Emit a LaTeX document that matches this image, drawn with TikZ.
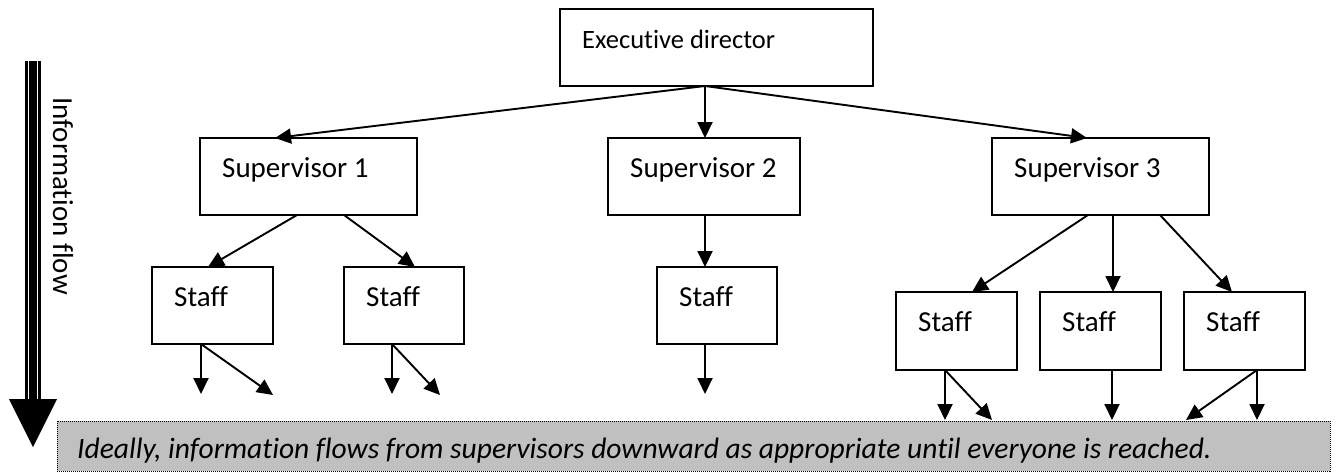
\documentclass[tikz,border=0pt]{standalone}
\usepackage{fontspec}
\setmainfont{Carlito}[Ligatures=NoCommon]
\usetikzlibrary{arrows.meta,calc}
\definecolor{barGray}{RGB}{192,192,192}
\begin{document}
\begin{tikzpicture}[x=1pt,y=-1pt,
  box/.style={draw, line width=1.9pt, inner sep=0pt, outer sep=0pt, anchor=north west},
  lbl/.style={anchor=base west, inner sep=0pt, font=\fontsize{29}{35}\selectfont},
  arr/.style={line width=1.9pt, -{Triangle[length=16pt,width=15pt]}}]
\useasboundingbox (0,0) rectangle (1337,472);
% boxes
\node[box, minimum width=313pt, minimum height=77pt] (exec) at (560,9) {};
\node[box, minimum width=217pt, minimum height=77pt] (sup1) at (200,138) {};
\node[box, minimum width=192pt, minimum height=77pt] (sup2) at (608,138) {};
\node[box, minimum width=217pt, minimum height=77pt] (sup3) at (992,138) {};
\node[box, minimum width=121pt, minimum height=77pt] (st1) at (152,267) {};
\node[box, minimum width=120pt, minimum height=77pt] (st2) at (344,267) {};
\node[box, minimum width=120pt, minimum height=77pt] (stm) at (657,267) {};
\node[box, minimum width=121pt, minimum height=78pt] (sta) at (896,292) {};
\node[box, minimum width=121pt, minimum height=78pt] (stb) at (1040,292) {};
\node[box, minimum width=121pt, minimum height=78pt] (stc) at (1184,292) {};
% labels
\node[lbl, font=\fontsize{26.5}{32}\selectfont] (execT) at ($(exec.north west)+(22,39)$) {Executive director};
\node[lbl] (sup1T) at ($(sup1.north west)+(22,39)$) {Supervisor 1};
\node[lbl] (sup2T) at ($(sup2.north west)+(22,39)$) {Supervisor 2};
\node[lbl] (sup3T) at ($(sup3.north west)+(22,39)$) {Supervisor 3};
\node[lbl] (st1T) at ($(st1.north west)+(22,39)$) {Staff};
\node[lbl] (st2T) at ($(st2.north west)+(22,39)$) {Staff};
\node[lbl] (stmT) at ($(stm.north west)+(22,39)$) {Staff};
\node[lbl] (staT) at ($(sta.north west)+(22,39)$) {Staff};
\node[lbl] (stbT) at ($(stb.north west)+(22,39)$) {Staff};
\node[lbl] (stcT) at ($(stc.north west)+(22,39)$) {Staff};
% bottom bar
\node[draw, fill=barGray, line width=1pt, dash pattern=on 1pt off 1pt, inner sep=0pt, outer sep=0pt,
      anchor=north west, minimum width=1273pt, minimum height=50pt] (bar) at (57,421) {};
\node[lbl, font=\fontsize{29.5}{35}\selectfont\itshape] (barT) at ($(bar.north west)+(20,37)$)
  {Ideally, information flows from supervisors downward as appropriate until everyone is reached.};
% free ends
\coordinate (f1a) at (201,394);
\coordinate (f1b) at (273,395);
\coordinate (f2a) at (392,394);
\coordinate (f2b) at (440,395);
\coordinate (fm) at (705,394);
\coordinate (fa1) at ($(bar.north west)+(888,-1)$);
\coordinate (fa2) at ($(bar.north west)+(935,-1)$);
\coordinate (fb) at ($(bar.north west)+(1055,-1)$);
\coordinate (fc1) at ($(bar.north west)+(1200,-1)$);
\coordinate (fc2) at ($(bar.north west)+(1129,-1)$);
% connectors
\draw[arr] ($(exec.south west)+(145,0)$) -- ($(sup1.north west)+(75,0)$);
\draw[arr] ($(exec.south west)+(145,0)$) -- ($(sup2.north west)+(97,0)$);
\draw[arr] ($(exec.south west)+(145,0)$) -- ($(sup3.north west)+(95,0)$);
\draw[arr] ($(sup1.south west)+(97,0)$) -- ($(st1.north west)+(56,0)$);
\draw[arr] ($(sup1.south west)+(144,0)$) -- ($(st2.north west)+(71,0)$);
\draw[arr] ($(sup2.south west)+(97,0)$) -- ($(stm.north west)+(48,0)$);
\draw[arr] ($(sup3.south west)+(96,0)$) -- ($(sta.north west)+(76,0)$);
\draw[arr] ($(sup3.south west)+(121,0)$) -- ($(stb.north west)+(73,0)$);
\draw[arr] ($(sup3.south west)+(168,0)$) -- ($(stc.north west)+(48,0)$);
\draw[arr] ($(st1.south west)+(49,0)$) -- (f1a);
\draw[arr] ($(st1.south west)+(49,0)$) -- (f1b);
\draw[arr] ($(st2.south west)+(48,0)$) -- (f2a);
\draw[arr] ($(st2.south west)+(48,0)$) -- (f2b);
\draw[arr] ($(stm.south west)+(48,0)$) -- (fm);
\draw[arr] ($(sta.south west)+(49,0)$) -- (fa1);
\draw[arr] ($(sta.south west)+(49,0)$) -- (fa2);
\draw[arr] ($(stb.south west)+(72,0)$) -- (fb);
\draw[arr] ($(stc.south west)+(73,0)$) -- (fc1);
\draw[arr] ($(stc.south west)+(73,0)$) -- (fc2);
% information flow arrow
\fill (25,61) rectangle (28,399);
\fill (29.3,61) rectangle (36.7,399);
\fill (38,61) rectangle (41,399);
\fill (9,399) -- (57,399) -- (33,447) -- cycle;
\node[rotate=-90, inner sep=0pt, font=\fontsize{29}{35}\selectfont] (flowT) at (63,196) {Information flow};
\end{tikzpicture}
\end{document}
